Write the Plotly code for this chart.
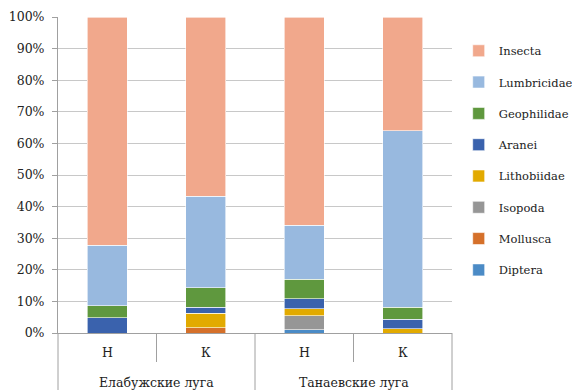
import plotly.graph_objects as go

groups = ["Елабужские луга", "Елабужские луга", "Танаевские луга", "Танаевские луга"]
subcats = ["Н", "К", "Н", "К"]
group_labels = ["Елабужские луга", "Танаевские луга"]

series_names = ["Diptera", "Mollusca", "Isopoda", "Lithobiidae", "Aranei", "Geophilidae", "Lumbricidae", "Insecta"]
diptera = [0, 0, 1.0, 0]
mollusca = [0, 1.7, 0, 0]
isopoda = [0, 0, 4.5, 0]
lithobiidae = [0, 4.6, 2.2, 1.3]
aranei = [4.9, 1.8, 3.2, 3.0]
geophilidae = [3.8, 6.3, 6.1, 3.8]
lumbricidae = [19.0, 28.8, 17.1, 55.9]
insecta = [72.3, 56.8, 65.9, 36.0]
values = [diptera, mollusca, isopoda, lithobiidae, aranei, geophilidae, lumbricidae, insecta]
colors = ["#4B8BC6", "#D5702A", "#969696", "#E2AA00", "#3A62AD", "#5F983E", "#98B9DF", "#F1A88C"]

FONT = "DejaVu Serif"
AXC = "#A0A0A0"

fig = go.Figure()
for i, (name, vals, col) in enumerate(zip(series_names, values, colors)):
    fig.add_trace(go.Bar(
        x=[groups, subcats], y=vals, name=name, legendgroup=name,
        legendrank=1000 - i,
        marker=dict(color=col, line=dict(color="white", width=0.6)),
    ))

plot_h = 316.0
n = len(subcats)
# category boundary lines (short) and group dividers (long)
for k in range(n + 1):
    long_line = (k % 2 == 0)
    fig.add_shape(type="line", xref="paper", yref="paper",
                  x0=k / n, x1=k / n, y0=0, y1=(-57 if long_line else -29) / plot_h,
                  line=dict(color=AXC, width=1))
# sub-category labels
for i, s in enumerate(subcats):
    fig.add_annotation(x=(i + 0.5) / n, y=-19 / plot_h, xref="paper", yref="paper",
                       text=s, showarrow=False, xanchor="center", yanchor="middle",
                       font=dict(family=FONT, size=12.5, color="#222"))
# group labels
for g, lab in enumerate(group_labels):
    fig.add_annotation(x=(2 * g + 1) / n, y=-49 / plot_h, xref="paper", yref="paper",
                       text=lab, showarrow=False, xanchor="center", yanchor="middle",
                       font=dict(family=FONT, size=12.5, color="#222"))

fig.update_layout(
    template="none",
    barmode="stack", barnorm="percent",
    width=572, height=382,
    margin=dict(l=50, r=128, t=9, b=57, autoexpand=False),
    paper_bgcolor="white", plot_bgcolor="white",
    font=dict(family=FONT, size=12.5, color="#222"),
    bargap=0.594,
    legend=dict(traceorder="grouped", x=1.017, y=0.939, xanchor="left", yanchor="top",
                tracegroupgap=12.3, font=dict(size=11.5, family=FONT),
                itemwidth=30),
    showlegend=True,
)
fig.update_yaxes(range=[0, 100], dtick=10, ticksuffix="%", showgrid=True,
                 gridcolor="#C8C8C8", gridwidth=1, showline=True, linecolor=AXC,
                 ticks="outside", ticklen=5, tickcolor=AXC, zeroline=False,
                 ticklabelstandoff=5,
                 tickfont=dict(size=12.5, family=FONT))
fig.update_xaxes(type="multicategory", showline=True, linecolor=AXC,
                 ticks="", showticklabels=False, showdividers=False, showgrid=False)

fig.write_html("out.html")
